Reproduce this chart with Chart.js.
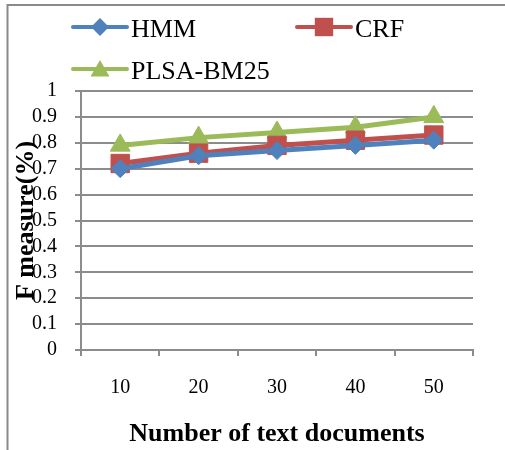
<!DOCTYPE html>
<html>
<head>
<meta charset="utf-8">
<script src="https://cdn.jsdelivr.net/npm/chart.js@4/dist/chart.umd.min.js"></script>
<style>
  html, body { margin: 0; padding: 0; background: #ffffff; }
  #wrap { width: 505px; height: 450px; }
</style>
</head>
<body>
<div id="wrap"><canvas id="c" width="505" height="450"></canvas></div>
<script>
// Number of text documents on the x axis
const categories = ['10', '20', '30', '40', '50'];
// F measure per method
const hmmValues  = [0.70, 0.75, 0.77, 0.79, 0.81];
const crfValues  = [0.72, 0.76, 0.79, 0.81, 0.83];
const plsaValues = [0.79, 0.82, 0.84, 0.86, 0.90];
const yTickLabels = ['0', '0.1', '0.2', '0.3', '0.4', '0.5', '0.6', '0.7', '0.8', '0.9', '1'];

const SERIF = "'Liberation Serif', 'Times New Roman', Times, serif";
const GRID = '#8c8c8c';

function marker(ctx, style, x, y, r, color) {
  ctx.save();
  ctx.fillStyle = color;
  ctx.beginPath();
  if (style === 'rectRot') {
    ctx.moveTo(x, y - r); ctx.lineTo(x + r, y); ctx.lineTo(x, y + r); ctx.lineTo(x - r, y);
  } else if (style === 'rect') {
    const s = Math.SQRT1_2 * r;
    ctx.rect(x - s, y - s, 2 * s, 2 * s);
  } else if (style === 'triangle') {
    ctx.moveTo(x, y - r);
    ctx.lineTo(x + 0.866 * r, y + 0.5 * r);
    ctx.lineTo(x - 0.866 * r, y + 0.5 * r);
  }
  ctx.closePath();
  ctx.fill();
  ctx.restore();
}

// Frame round the figure plus the two-row legend in the top band
const framePlugin = {
  id: 'frameAndLegend',
  beforeDraw(chart) {
    const ctx = chart.ctx;
    ctx.save();
    ctx.strokeStyle = '#8a8a8a';
    ctx.lineWidth = 2;
    ctx.strokeRect(7.5, 5, 600, 500);
    ctx.restore();
  },
  afterDraw(chart) {
    const ctx = chart.ctx;
    const slots = [
      { x: 73, y: 27, base: 37 },
      { x: 297, y: 27, base: 37 },
      { x: 73, y: 69, base: 79 }
    ];
    chart.data.datasets.forEach((ds, i) => {
      const s = slots[i];
      ctx.save();
      ctx.strokeStyle = ds.borderColor;
      ctx.lineWidth = 4;
      ctx.lineCap = 'round';
      ctx.beginPath();
      ctx.moveTo(s.x, s.y);
      ctx.lineTo(s.x + 54, s.y);
      ctx.stroke();
      ctx.restore();
      marker(ctx, ds.pointStyle, s.x + 27, s.y + (ds.pointStyle === 'triangle' ? 2 : 0), ds.legendRadius, ds.borderColor);
      ctx.save();
      ctx.fillStyle = '#000000';
      ctx.font = '26px ' + SERIF;
      ctx.textBaseline = 'alphabetic';
      ctx.textAlign = 'left';
      ctx.fillText(ds.label, s.x + 58, s.base);
      ctx.restore();
    });
  }
};

const mk = (label, data, color, style, radius, legendRadius) => ({
  label, data,
  borderColor: color,
  backgroundColor: color,
  borderWidth: 5,
  pointStyle: style,
  pointRadius: radius,
  pointHoverRadius: radius,
  pointBorderWidth: 1,
  pointBackgroundColor: color,
  pointBorderColor: color,
  legendRadius,
  tension: 0
});

new Chart(document.getElementById('c'), {
  type: 'line',
  data: {
    labels: categories,
    datasets: [
      mk('HMM', hmmValues, '#4F81BD', 'rectRot', 9, 9),
      mk('CRF', crfValues, '#C0504D', 'rect', 13, 13),
      mk('PLSA-BM25', plsaValues, '#9BBB59', 'triangle', 11.5, 11)
    ]
  },
  options: {
    responsive: false,
    animation: false,
    devicePixelRatio: 1,
    layout: { padding: { left: 0, top: 91, right: 32, bottom: 0 } },
    plugins: { legend: { display: false }, tooltip: { enabled: false } },
    scales: {
      x: {
        type: 'category',
        offset: true,
        afterFit(scale) { scale.height = 100; },
        grid: { offset: true, drawOnChartArea: false, drawTicks: true, tickLength: 6, color: GRID, lineWidth: 2 },
        border: { color: GRID, width: 2 },
        ticks: { color: '#000000', font: { family: SERIF, size: 20 }, padding: 20, maxRotation: 0, autoSkip: false },
        title: {
          display: true,
          text: 'Number of text documents',
          color: '#000000',
          font: { family: SERIF, size: 26, weight: 'bold' },
          padding: { top: 0, bottom: 0 }
        }
      },
      y: {
        min: 0,
        max: 1,
        afterFit(scale) { scale.width = 81; },
        grid: { drawTicks: true, tickLength: 6, color: GRID, lineWidth: 2 },
        border: { color: GRID, width: 2 },
        ticks: {
          stepSize: 0.1,
          autoSkip: false,
          color: '#000000',
          font: { family: SERIF, size: 20 },
          padding: 18,
          callback: (v, i) => yTickLabels[i]
        },
        title: {
          display: true,
          text: 'F measure(%)',
          color: '#000000',
          font: { family: SERIF, size: 26, weight: 'bold' },
          padding: { top: 11, bottom: 0 }
        }
      }
    }
  },
  plugins: [framePlugin]
});
</script>
</body>
</html>
